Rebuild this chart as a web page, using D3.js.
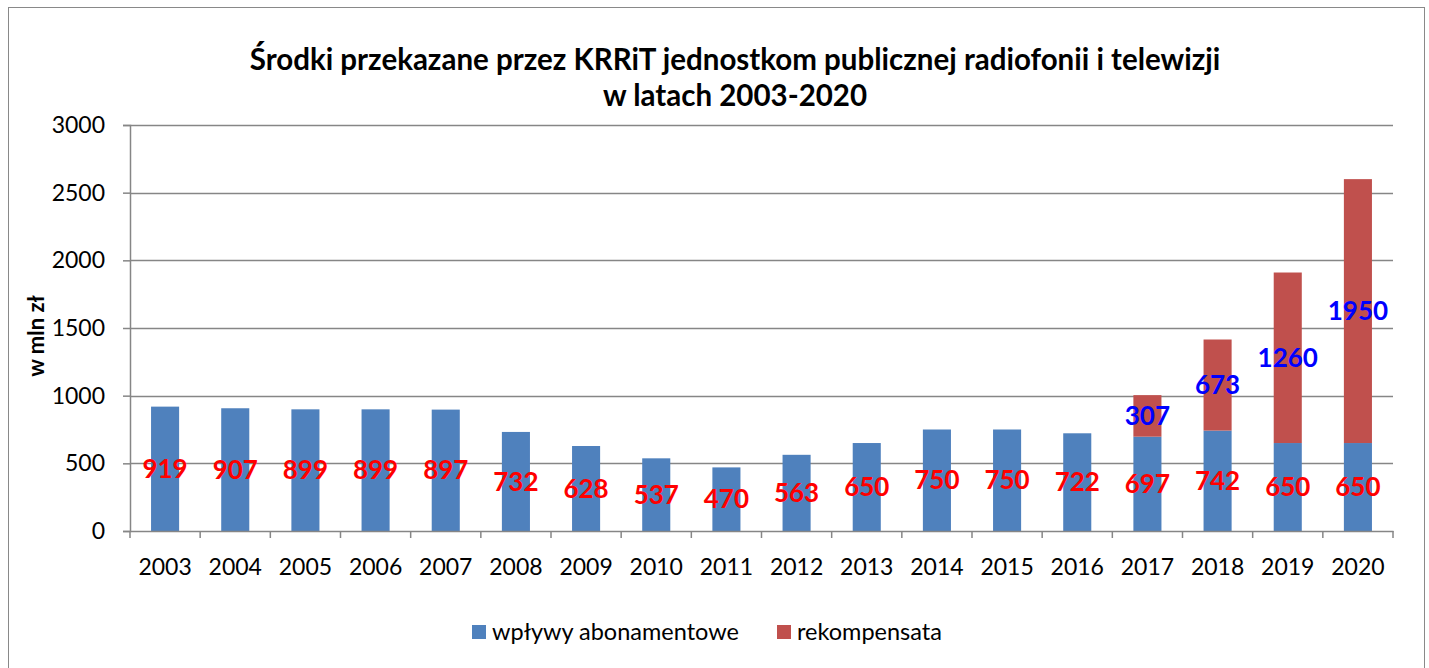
<!DOCTYPE html>
<html lang="pl">
<head>
<meta charset="UTF-8">
<title>Środki przekazane przez KRRiT</title>
<script src="https://cdn.jsdelivr.net/npm/d3@7"></script>
<style>
  body { margin: 0; background: #fff; }
  svg, svg text { font-family: Lato, "Open Sans", sans-serif; }
</style>
</head>
<body>
<svg id="chart"></svg>
<script>
  // dane z wykresu
  const years = ['2003','2004','2005','2006','2007','2008','2009','2010','2011','2012','2013','2014','2015','2016','2017','2018','2019','2020'];
  const abonament = [919,907,899,899,897,732,628,537,470,563,650,750,750,722,697,742,650,650];
  const rekompensata = [0,0,0,0,0,0,0,0,0,0,0,0,0,0,307,673,1260,1950];
  const yTicks = [0,500,1000,1500,2000,2500,3000];
  const seriesNames = ['wpływy abonamentowe', 'rekompensata'];
  const colors = ['#4F81BD', '#C0504D'];
  const labelColors = ['#FF0000', '#0000FF'];

  const width = 1429, height = 668;
  const margin = {left: 130, right: 36, top: 125, bottom: 137};

  const svg = d3.select('#chart').attr('width', width).attr('height', height);

  // ramka wykresu
  svg.append('rect')
     .attr('x', 8.5).attr('y', 7.5)
     .attr('width', 1416).attr('height', 680)
     .attr('fill', 'none').attr('stroke', '#898989');

  const x = d3.scaleBand().domain(years)
              .range([margin.left, width - margin.right])
              .paddingInner(0.6).paddingOuter(0.3);
  const y = d3.scaleLinear().domain([0, 3000])
              .range([height - margin.bottom, margin.top]);

  // siatka
  svg.append('g')
     .selectAll('line').data(yTicks.slice(1)).join('line')
     .attr('x1', margin.left).attr('x2', width - margin.right)
     .attr('y1', d => Math.round(y(d)) + 0.5).attr('y2', d => Math.round(y(d)) + 0.5)
     .attr('stroke', '#868686').attr('stroke-width', 1.5);

  // stos danych
  const table = years.map((yr, i) => ({year: yr, a: abonament[i], r: rekompensata[i]}));
  const stacked = d3.stack().keys(['a', 'r'])(table);

  const layers = svg.append('g').selectAll('g').data(stacked).join('g')
     .attr('fill', (d, i) => colors[i]);
  layers.selectAll('rect').data(d => d.filter(p => p[1] > p[0])).join('rect')
     .attr('x', d => x(d.data.year))
     .attr('width', x.bandwidth())
     .attr('y', d => y(d[1]))
     .attr('height', d => y(d[0]) - y(d[1]));

  // etykiety danych
  const lbl = svg.append('g').selectAll('g').data(stacked).join('g')
     .attr('fill', (d, i) => labelColors[i]);
  lbl.selectAll('text').data(d => d.filter(p => p[1] > p[0])).join('text')
     .attr('x', d => x(d.data.year) + x.bandwidth() / 2)
     .attr('y', d => y((d[0] + d[1]) / 2))
     .attr('dy', '0.35em')
     .attr('text-anchor', 'middle')
     .style('font-size', '26px').style('font-weight', 'bold')
     .text(d => d[1] - d[0]);

  // oś Y
  const yAxis = svg.append('g')
     .attr('transform', `translate(${margin.left},0)`)
     .call(d3.axisLeft(y).tickValues(yTicks).tickFormat(d3.format('d')).tickSize(7).tickPadding(18));
  yAxis.select('.domain').attr('stroke', '#868686').attr('stroke-width', 1.5);
  yAxis.selectAll('.tick line').attr('stroke', '#868686').attr('stroke-width', 1.5);
  yAxis.selectAll('text').style('font-size', '23px').attr('fill', '#000');

  // oś X
  const xAxis = svg.append('g')
     .attr('transform', `translate(0,${height - margin.bottom})`)
     .call(d3.axisBottom(x).tickSize(0).tickPadding(28));
  xAxis.select('.domain').attr('stroke', '#868686').attr('stroke-width', 1.5);
  xAxis.selectAll('text').style('font-size', '23px').attr('fill', '#000');
  // podziałki między kategoriami
  const edges = d3.range(years.length + 1).map(i => margin.left + i * (width - margin.left - margin.right) / years.length);
  xAxis.selectAll('.sep').data(edges).join('line')
     .attr('class', 'sep')
     .attr('x1', d => d).attr('x2', d => d)
     .attr('y1', 0).attr('y2', 7)
     .attr('stroke', '#868686').attr('stroke-width', 1.5);

  // tytuł
  const title = svg.append('text')
     .attr('x', 735).attr('text-anchor', 'middle')
     .style('font-size', '29.5px').style('font-weight', 'bold');
  title.append('tspan').attr('x', 735).attr('y', 70)
     .text('Środki przekazane przez KRRiT jednostkom publicznej radiofonii i telewizji');
  title.append('tspan').attr('x', 735).attr('y', 106)
     .text('w latach 2003-2020');

  // tytuł osi Y
  svg.append('text')
     .attr('transform', 'translate(44,336) rotate(-90)')
     .attr('text-anchor', 'middle')
     .style('font-size', '22px').style('font-weight', 'bold')
     .text('w mln zł');

  // legenda
  const legendX = [472, 777];
  const legend = svg.append('g').selectAll('g').data(seriesNames).join('g')
     .attr('transform', (d, i) => `translate(${legendX[i]},625)`);
  legend.append('rect').attr('width', 14).attr('height', 14)
     .attr('fill', (d, i) => colors[i]);
  legend.append('text').attr('x', 20).attr('y', 7).attr('dy', '0.35em')
     .style('font-size', '23.5px')
     .text(d => d);
</script>
</body>
</html>
